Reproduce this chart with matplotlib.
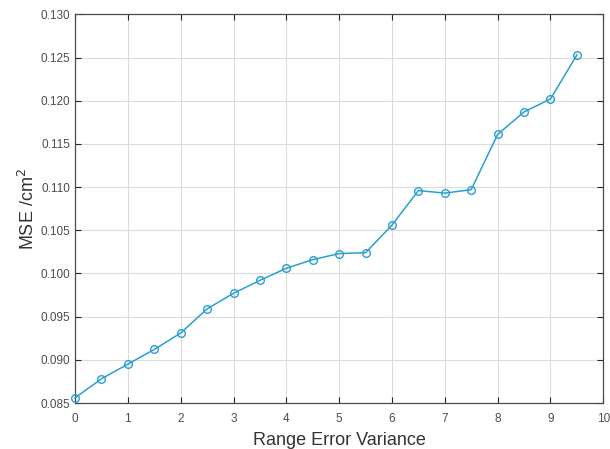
import matplotlib
matplotlib.use("Agg")
import matplotlib.pyplot as plt

variance = [0, 0.5, 1, 1.5, 2, 2.5, 3, 3.5, 4, 4.5, 5, 5.5, 6, 6.5, 7, 7.5, 8, 8.5, 9, 9.5]
mse = [0.0856, 0.0878, 0.0895, 0.0912, 0.0931, 0.0959, 0.0977, 0.0992, 0.1006, 0.1016,
       0.1023, 0.1024, 0.1056, 0.1096, 0.1093, 0.1097, 0.1161, 0.1187, 0.1202, 0.1253]
xticks = list(range(0, 11))
yticks = [0.085, 0.090, 0.095, 0.100, 0.105, 0.110, 0.115, 0.120, 0.125, 0.130]

plt.rcParams['font.family'] = ['Liberation Sans', 'DejaVu Sans']
fig = plt.figure(figsize=(6.1, 4.49), dpi=100)
ax = fig.add_axes([0.123, 0.1024, 0.866, 0.8657])
color = '#2a9fd0'
ax.plot(variance, mse, '-o', color=color, lw=1.1, markersize=5.5,
        markerfacecolor='none', markeredgecolor=color, markeredgewidth=1.0, clip_on=False, zorder=3)
ax.set_xlim(0, 10)
ax.set_ylim(0.085, 0.130)
ax.set_xticks(xticks)
ax.set_yticks(yticks)
ax.set_yticklabels([f"{v:.3f}" for v in yticks])
ax.grid(True, color='#dcdcdc', lw=0.8)
ax.set_axisbelow(True)
ax.tick_params(direction='in', top=True, right=True, length=4, width=0.8,
               labelsize=8.5, colors='#262626', labelcolor='#4d4d4d')
ax.tick_params(axis='x', pad=7)
for s in ax.spines.values():
    s.set_color('#4d4d4d')
    s.set_linewidth(0.9)
ax.set_xlabel('Range Error Variance', fontsize=13, color='#333333', labelpad=5)
ax.set_ylabel('MSE /cm$^2$', fontsize=13, color='#333333', labelpad=2)
fig.savefig('out.png', dpi=100)
